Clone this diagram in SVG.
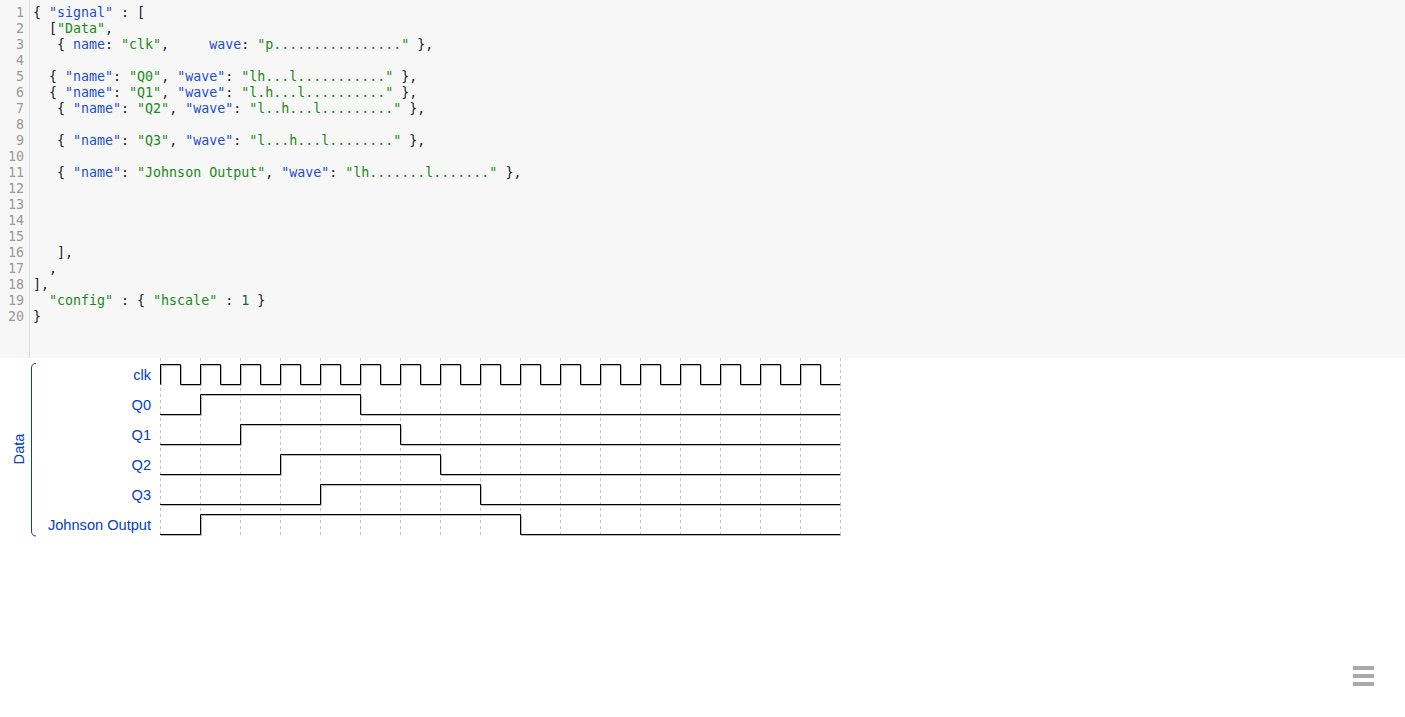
<svg xmlns="http://www.w3.org/2000/svg" width="1405" height="717" viewBox="0 0 1405 717">
<style>
.code{font-family:"DejaVu Sans Mono",monospace;font-size:13.3px;fill:#222;white-space:pre}
.ln{font-family:"DejaVu Sans Mono",monospace;font-size:13.3px;fill:#999;text-anchor:end}
.k{fill:#1c4fce}
.s{fill:#198a19}
.n{fill:#116644}
.lbl{font-family:"Liberation Sans",Arial,sans-serif;font-size:14.6px;fill:#0041c4;text-anchor:end}
.grp{font-family:"Liberation Sans",Arial,sans-serif;font-size:14.6px;fill:#0041c4;text-anchor:middle}
.grid{stroke:#c4c4c4;stroke-width:1;stroke-dasharray:3,3;fill:none}
.w{fill:none;stroke:#000;stroke-width:1}
.sh{fill:none;stroke:#b8b8b8;stroke-width:1}
.bar{fill:#aaaaaa}
</style>
<rect width="1405" height="717" fill="#ffffff"/>
<g id="editor">
<rect x="0" y="0" width="1405" height="358" fill="#f7f7f7"/>
<line x1="29.5" y1="0" x2="29.5" y2="358" stroke="#dddddd"/>
<g id="line-numbers">
<text class="ln" x="24" y="17">1</text>
<text class="ln" x="24" y="33">2</text>
<text class="ln" x="24" y="49">3</text>
<text class="ln" x="24" y="65">4</text>
<text class="ln" x="24" y="81">5</text>
<text class="ln" x="24" y="97">6</text>
<text class="ln" x="24" y="113">7</text>
<text class="ln" x="24" y="129">8</text>
<text class="ln" x="24" y="145">9</text>
<text class="ln" x="24" y="161">10</text>
<text class="ln" x="24" y="177">11</text>
<text class="ln" x="24" y="193">12</text>
<text class="ln" x="24" y="209">13</text>
<text class="ln" x="24" y="225">14</text>
<text class="ln" x="24" y="241">15</text>
<text class="ln" x="24" y="257">16</text>
<text class="ln" x="24" y="273">17</text>
<text class="ln" x="24" y="289">18</text>
<text class="ln" x="24" y="305">19</text>
<text class="ln" x="24" y="321">20</text>
</g>
<g id="code-lines">
<text class="code" x="33" y="17" xml:space="preserve">{ <tspan class="k">"signal"</tspan> : [</text>
<text class="code" x="33" y="33" xml:space="preserve">  [<tspan class="s">"Data"</tspan>,</text>
<text class="code" x="33" y="49" xml:space="preserve">   { <tspan class="k">name</tspan>: <tspan class="s">"clk"</tspan>,     <tspan class="k">wave</tspan>: <tspan class="s">"p................"</tspan> },</text>
<text class="code" x="33" y="81" xml:space="preserve">  { <tspan class="k">"name"</tspan>: <tspan class="s">"Q0"</tspan>, <tspan class="k">"wave"</tspan>: <tspan class="s">"lh...l..........."</tspan> },</text>
<text class="code" x="33" y="97" xml:space="preserve">  { <tspan class="k">"name"</tspan>: <tspan class="s">"Q1"</tspan>, <tspan class="k">"wave"</tspan>: <tspan class="s">"l.h...l.........."</tspan> },</text>
<text class="code" x="33" y="113" xml:space="preserve">   { <tspan class="k">"name"</tspan>: <tspan class="s">"Q2"</tspan>, <tspan class="k">"wave"</tspan>: <tspan class="s">"l..h...l........."</tspan> },</text>
<text class="code" x="33" y="145" xml:space="preserve">   { <tspan class="k">"name"</tspan>: <tspan class="s">"Q3"</tspan>, <tspan class="k">"wave"</tspan>: <tspan class="s">"l...h...l........"</tspan> },</text>
<text class="code" x="33" y="177" xml:space="preserve">   { <tspan class="k">"name"</tspan>: <tspan class="s">"Johnson Output"</tspan>, <tspan class="k">"wave"</tspan>: <tspan class="s">"lh.......l......."</tspan> },</text>
<text class="code" x="33" y="257" xml:space="preserve">   ],</text>
<text class="code" x="33" y="273" xml:space="preserve">  ,</text>
<text class="code" x="33" y="289" xml:space="preserve">],</text>
<text class="code" x="33" y="305" xml:space="preserve">  <tspan class="s">"config"</tspan> : { <tspan class="s">"hscale"</tspan> : <tspan class="n">1</tspan> }</text>
<text class="code" x="33" y="321" xml:space="preserve">}</text>
</g>
</g>
<g id="grid">
<path class="grid" d="M160.5,358V537M200.5,358V537M240.5,358V537M280.5,358V537M320.5,358V537M360.5,358V537M400.5,358V537M440.5,358V537M480.5,358V537M520.5,358V537M560.5,358V537M600.5,358V537M640.5,358V537M680.5,358V537M720.5,358V537M760.5,358V537M800.5,358V537M840.5,358V537"/>
</g>
<g id="group-Data">
<path d="M36,363.5 Q31.5,363.5 31.5,368 V531 Q31.5,536 36,536" fill="none" stroke="#0041c4" stroke-width="1"/>
<text class="grp" transform="translate(24,449) rotate(-90)">Data</text>
</g>
<g id="sig-clk">
<text class="lbl" x="151" y="380">clk</text>
<path class="sh" transform="translate(1,1)" d="M160.5,384.5V364.5H180.5V384.5H200.5V364.5H220.5V384.5H240.5V364.5H260.5V384.5H280.5V364.5H300.5V384.5H320.5V364.5H340.5V384.5H360.5V364.5H380.5V384.5H400.5V364.5H420.5V384.5H440.5V364.5H460.5V384.5H480.5V364.5H500.5V384.5H520.5V364.5H540.5V384.5H560.5V364.5H580.5V384.5H600.5V364.5H620.5V384.5H640.5V364.5H660.5V384.5H680.5V364.5H700.5V384.5H720.5V364.5H740.5V384.5H760.5V364.5H780.5V384.5H800.5V364.5H820.5V384.5H840"/>
<path class="w" d="M160.5,384.5V364.5H180.5V384.5H200.5V364.5H220.5V384.5H240.5V364.5H260.5V384.5H280.5V364.5H300.5V384.5H320.5V364.5H340.5V384.5H360.5V364.5H380.5V384.5H400.5V364.5H420.5V384.5H440.5V364.5H460.5V384.5H480.5V364.5H500.5V384.5H520.5V364.5H540.5V384.5H560.5V364.5H580.5V384.5H600.5V364.5H620.5V384.5H640.5V364.5H660.5V384.5H680.5V364.5H700.5V384.5H720.5V364.5H740.5V384.5H760.5V364.5H780.5V384.5H800.5V364.5H820.5V384.5H840"/>
</g>
<g id="sig-Q0">
<text class="lbl" x="151" y="410">Q0</text>
<path class="sh" transform="translate(1,1)" d="M160,414.5H200.5V394.5H360.5V414.5H840"/>
<path class="w" d="M160,414.5H200.5V394.5H360.5V414.5H840"/>
</g>
<g id="sig-Q1">
<text class="lbl" x="151" y="440">Q1</text>
<path class="sh" transform="translate(1,1)" d="M160,444.5H240.5V424.5H400.5V444.5H840"/>
<path class="w" d="M160,444.5H240.5V424.5H400.5V444.5H840"/>
</g>
<g id="sig-Q2">
<text class="lbl" x="151" y="470">Q2</text>
<path class="sh" transform="translate(1,1)" d="M160,474.5H280.5V454.5H440.5V474.5H840"/>
<path class="w" d="M160,474.5H280.5V454.5H440.5V474.5H840"/>
</g>
<g id="sig-Q3">
<text class="lbl" x="151" y="500">Q3</text>
<path class="sh" transform="translate(1,1)" d="M160,504.5H320.5V484.5H480.5V504.5H840"/>
<path class="w" d="M160,504.5H320.5V484.5H480.5V504.5H840"/>
</g>
<g id="sig-Johnson">
<text class="lbl" x="151" y="530">Johnson Output</text>
<path class="sh" transform="translate(1,1)" d="M160,534.5H200.5V514.5H520.5V534.5H840"/>
<path class="w" d="M160,534.5H200.5V514.5H520.5V534.5H840"/>
</g>
<g id="menu-icon">
<rect class="bar" x="1353" y="666" width="21" height="4"/>
<rect class="bar" x="1353" y="674" width="21" height="4"/>
<rect class="bar" x="1353" y="682" width="21" height="4"/>
</g>
</svg>
